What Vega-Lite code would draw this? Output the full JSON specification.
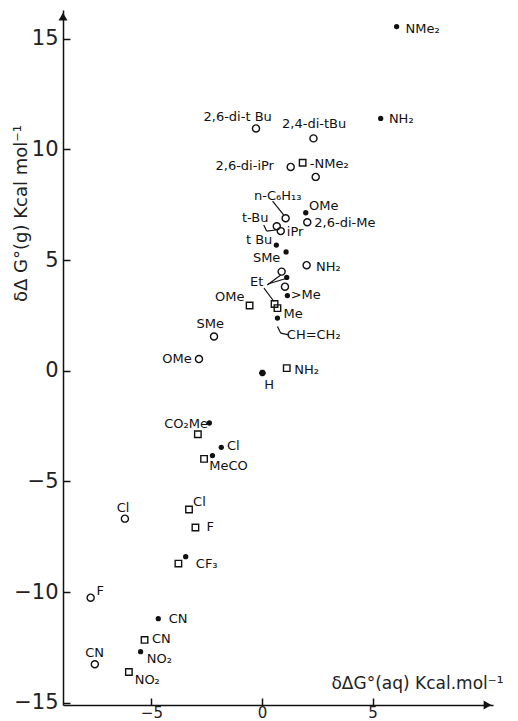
{
  "$schema": "https://vega.github.io/schema/vega-lite/v6.json",
  "width": 430,
  "height": 695,
  "autosize": {"type": "none"},
  "padding": {"left": 63, "top": 10, "right": 25, "bottom": 16},
  "background": "white",
  "config": {
    "view": {"stroke": null},
    "font": "DejaVu Sans",
    "axis": {"grid": false, "domainColor": "#111", "domainWidth": 1.5, "tickColor": "#111", "tickWidth": 1.5, "labelColor": "#222", "titleColor": "#222", "labelFont": "DejaVu Sans", "titleFont": "DejaVu Sans", "titleFontWeight": "normal"}
  },
  "datasets": {
    "pts": [
      {"x": 6.09, "y": 15.55, "type": "filled", "label": "NMe₂", "lx": 7.27, "ly": 15.43},
      {"x": 5.37, "y": 11.4, "type": "filled", "label": "NH₂", "lx": 6.3, "ly": 11.37},
      {"x": 1.98, "y": 7.14, "type": "filled", "label": "OMe", "lx": 2.79, "ly": 7.45},
      {"x": 0.65, "y": 5.68, "type": "filled", "label": "t Bu", "lx": -0.13, "ly": 5.91},
      {"x": 1.09, "y": 5.37, "type": "filled", "label": "SMe", "lx": 0.21, "ly": 5.08},
      {"x": 1.12, "y": 4.22, "type": "filled", "label": "Et", "lx": -0.24, "ly": 4.03},
      {"x": 1.15, "y": 3.4, "type": "filled", "label": ">Me", "lx": 1.98, "ly": 3.43},
      {"x": 0.7, "y": 2.38, "type": "filled", "label": "CH=CH₂", "lx": 2.34, "ly": 1.62},
      {"x": -2.38, "y": -2.36, "type": "filled", "label": "CO₂Me", "lx": -3.43, "ly": -2.39},
      {"x": -1.84, "y": -3.46, "type": "filled", "label": "Cl", "lx": -1.3, "ly": -3.41},
      {"x": -2.24, "y": -3.83, "type": "filled", "label": "MeCO", "lx": -1.51, "ly": -4.32},
      {"x": -3.45, "y": -8.4, "type": "filled", "label": "CF₃", "lx": -2.5, "ly": -8.71},
      {"x": -4.69, "y": -11.2, "type": "filled", "label": "CN", "lx": -3.79, "ly": -11.2},
      {"x": -5.49, "y": -12.69, "type": "filled", "label": "NO₂", "lx": -4.64, "ly": -13.04},
      {"x": -0.27, "y": 10.95, "type": "open", "label": "2,6-di-t Bu", "lx": -1.1, "ly": 11.46},
      {"x": 2.33, "y": 10.5, "type": "open", "label": "2,4-di-tBu", "lx": 2.36, "ly": 11.14},
      {"x": 1.3, "y": 9.21, "type": "open", "label": "2,6-di-iPr", "lx": -0.78, "ly": 9.25},
      {"x": 2.43, "y": 8.76, "type": "open", "label": null, "lx": null, "ly": null},
      {"x": 1.07, "y": 6.89, "type": "open", "label": "n-C₆H₁₃", "lx": 0.71, "ly": 7.89},
      {"x": 2.05, "y": 6.71, "type": "open", "label": "2,6-di-Me", "lx": 3.75, "ly": 6.66},
      {"x": 0.67, "y": 6.53, "type": "open", "label": "t-Bu", "lx": -0.31, "ly": 6.89},
      {"x": 0.85, "y": 6.31, "type": "open", "label": "iPr", "lx": 1.5, "ly": 6.27},
      {"x": 2.02, "y": 4.77, "type": "open", "label": "NH₂", "lx": 3.0, "ly": 4.7},
      {"x": 0.89, "y": 4.48, "type": "open", "label": null, "lx": null, "ly": null},
      {"x": 1.04, "y": 3.8, "type": "open", "label": null, "lx": null, "ly": null},
      {"x": -2.17, "y": 1.55, "type": "open", "label": "SMe", "lx": -2.34, "ly": 2.11},
      {"x": -2.85, "y": 0.53, "type": "open", "label": "OMe", "lx": -3.84, "ly": 0.53},
      {"x": -6.2, "y": -6.68, "type": "open", "label": "Cl", "lx": -6.28, "ly": -6.19},
      {"x": -7.75, "y": -10.25, "type": "open", "label": "F", "lx": -7.32, "ly": -9.96},
      {"x": -7.56, "y": -13.26, "type": "open", "label": "CN", "lx": -7.57, "ly": -12.77},
      {"x": 1.84, "y": 9.4, "type": "square", "label": "-NMe₂", "lx": 3.04, "ly": 9.34},
      {"x": 0.57, "y": 3.02, "type": "square", "label": null, "lx": null, "ly": null},
      {"x": 0.7, "y": 2.83, "type": "square", "label": "Me", "lx": 1.41, "ly": 2.57},
      {"x": -0.56, "y": 2.95, "type": "square", "label": "OMe", "lx": -1.46, "ly": 3.35},
      {"x": 1.12, "y": 0.12, "type": "square", "label": "NH₂", "lx": 2.02, "ly": 0.05},
      {"x": -2.9, "y": -2.87, "type": "square", "label": null, "lx": null, "ly": null},
      {"x": -2.62, "y": -3.98, "type": "square", "label": null, "lx": null, "ly": null},
      {"x": -3.3, "y": -6.27, "type": "square", "label": "Cl", "lx": -2.83, "ly": -5.92},
      {"x": -3.01, "y": -7.08, "type": "square", "label": "F", "lx": -2.34, "ly": -7.05},
      {"x": -3.78, "y": -8.71, "type": "square", "label": null, "lx": null, "ly": null},
      {"x": -5.31, "y": -12.16, "type": "square", "label": "CN", "lx": -4.55, "ly": -12.13},
      {"x": -6.02, "y": -13.61, "type": "square", "label": "NO₂", "lx": -5.19, "ly": -13.97},
      {"x": 0.02, "y": -0.1, "type": "star", "label": "H", "lx": 0.32, "ly": -0.63}
    ],
    "leaders": [
      {"x": 0.48, "y": 7.67, "x2": 0.98, "y2": 7.04},
      {"x": 0.08, "y": 6.59, "x2": 0.21, "y2": 6.31},
      {"x": 0.21, "y": 6.31, "x2": 0.62, "y2": 6.36},
      {"x": 0.24, "y": 3.88, "x2": 0.85, "y2": 4.33},
      {"x": 0.27, "y": 3.92, "x2": 1.12, "y2": 4.18},
      {"x": 0.09, "y": 3.73, "x2": 0.54, "y2": 3.13},
      {"x": 0.7, "y": 2.0, "x2": 0.85, "y2": 1.7},
      {"x": 0.85, "y": 1.7, "x2": 1.21, "y2": 1.62}
    ],
    "arrows": [
      {"x": -9, "y": 16.0, "dir": "up"},
      {"x": 10.2, "y": -15.1, "dir": "right"}
    ]
  },
  "layer": [
    {
      "data": {"name": "leaders"},
      "mark": {"type": "rule", "color": "#111", "strokeWidth": 1.2},
      "encoding": {
        "x": {"field": "x", "type": "quantitative", "scale": {"domain": [-9, 10.45], "nice": false, "zero": false},
          "axis": {"values": [-5, 0, 5], "tickSize": -7, "labelFontSize": 15, "labelPadding": 7, "labelBaseline": "top", "labelFlush": false,
            "title": "δΔG°(aq) Kcal.mol⁻¹", "titleFontSize": 17, "titleX": 354, "titleY": -22, "titleAlign": "center", "titleBaseline": "middle", "titleAngle": 0}},
        "y": {"field": "y", "type": "quantitative", "scale": {"domain": [-15.1, 16.3], "nice": false, "zero": false},
          "axis": {"values": [-15, -10, -5, 0, 5, 10, 15], "tickSize": -7, "labelFontSize": 21, "labelPadding": 12, "labelFlush": false,
            "title": "δΔ G°(g) Kcal mol⁻¹", "titleFontSize": 18, "titleX": -42, "titleY": 203, "titleAlign": "center", "titleBaseline": "middle", "titleAngle": -90}},
        "x2": {"field": "x2"},
        "y2": {"field": "y2"}
      }
    },
    {
      "data": {"name": "pts"},
      "transform": [{"filter": "datum.type === 'filled'"}],
      "mark": {"type": "point", "shape": "circle", "filled": true, "color": "#111", "size": 28, "opacity": 1},
      "encoding": {"x": {"field": "x", "type": "quantitative"}, "y": {"field": "y", "type": "quantitative"}}
    },
    {
      "data": {"name": "pts"},
      "transform": [{"filter": "datum.type === 'open'"}],
      "mark": {"type": "point", "shape": "circle", "filled": false, "color": "#111", "strokeWidth": 1.4, "size": 50, "opacity": 1},
      "encoding": {"x": {"field": "x", "type": "quantitative"}, "y": {"field": "y", "type": "quantitative"}}
    },
    {
      "data": {"name": "pts"},
      "transform": [{"filter": "datum.type === 'square'"}],
      "mark": {"type": "point", "shape": "square", "filled": false, "color": "#111", "strokeWidth": 1.4, "size": 42, "opacity": 1},
      "encoding": {"x": {"field": "x", "type": "quantitative"}, "y": {"field": "y", "type": "quantitative"}}
    },
    {
      "data": {"name": "pts"},
      "transform": [{"filter": "datum.type === 'star'"}],
      "mark": {"type": "point", "shape": "M-1,0L1,0M0,-1L0,1M-0.7,-0.7L0.7,0.7M-0.7,0.7L0.7,-0.7", "filled": false, "color": "#111", "strokeWidth": 2.2, "size": 45, "opacity": 1},
      "encoding": {"x": {"field": "x", "type": "quantitative"}, "y": {"field": "y", "type": "quantitative"}}
    },
    {
      "data": {"name": "pts"},
      "transform": [{"filter": "datum.label != null"}],
      "mark": {"type": "text", "align": "center", "baseline": "middle", "fontSize": 13, "color": "#111", "font": "DejaVu Sans"},
      "encoding": {"x": {"field": "lx", "type": "quantitative"}, "y": {"field": "ly", "type": "quantitative"}, "text": {"field": "label"}}
    },
    {
      "data": {"name": "arrows"},
      "transform": [{"filter": "datum.dir === 'up'"}],
      "mark": {"type": "point", "shape": "triangle-up", "filled": true, "color": "#111", "size": 80, "opacity": 1},
      "encoding": {"x": {"field": "x", "type": "quantitative"}, "y": {"field": "y", "type": "quantitative"}}
    },
    {
      "data": {"name": "arrows"},
      "transform": [{"filter": "datum.dir === 'right'"}],
      "mark": {"type": "point", "shape": "triangle-right", "filled": true, "color": "#111", "size": 80, "opacity": 1},
      "encoding": {"x": {"field": "x", "type": "quantitative"}, "y": {"field": "y", "type": "quantitative"}}
    }
  ]
}
